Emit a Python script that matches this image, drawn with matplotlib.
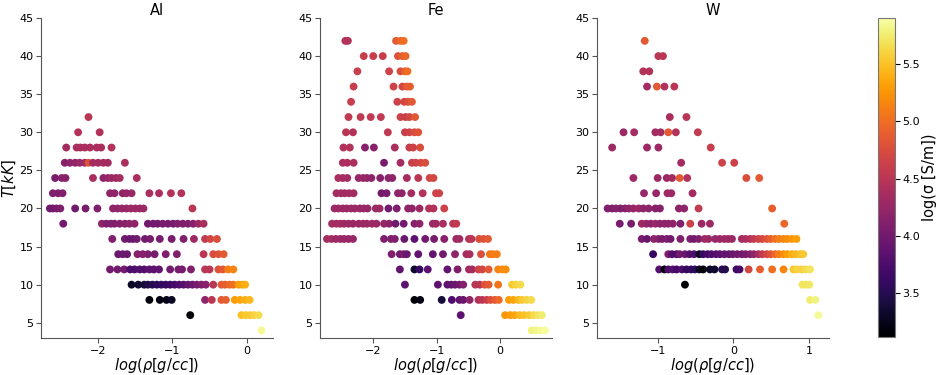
import numpy as np
import matplotlib
matplotlib.use("Agg")
import matplotlib.pyplot as plt
from matplotlib.colors import Normalize

# conductivity colour scale shared by all three panels
SIG_MIN, SIG_MAX = 3.12, 5.9

# ---- Al ----
al_T = [32, 30, 28, 26, 24, 22, 20, 18, 16, 14, 12, 10, 8, 6, 4]
al_logrho = [
    [-2.13],
    [-2.27, -1.98],
    [-2.43, -2.29, -2.24, -2.18, -2.11, -2.02, -1.96, -1.82],
    [-2.45, -2.38, -2.31, -2.25, -2.18, -2.13, -2.07, -2.00, -1.93, -1.87, -1.64],
    [-2.58, -2.49, -2.44, -2.07, -1.93, -1.87, -1.82, -1.76, -1.71, -1.48],
    [-2.61, -2.54, -2.48, -1.84, -1.78, -1.67, -1.62, -1.55, -1.31, -1.18, -1.02, -0.88],
    [-2.65, -2.61, -2.56, -2.51, -2.31, -2.17, -2.01, -1.80, -1.74, -1.68, -1.62, -1.56,
     -1.50, -1.44, -1.39, -0.73],
    [-2.47, -1.95, -1.89, -1.83, -1.78, -1.71, -1.64, -1.58, -1.51, -1.33, -1.26, -1.20,
     -1.13, -1.06, -0.99, -0.93, -0.86, -0.79, -0.72, -0.65, -0.58],
    [-1.81, -1.64, -1.58, -1.53, -1.48, -1.37, -1.30, -1.17, -1.01, -0.85, -0.71, -0.56,
     -0.49, -0.40],
    [-1.73, -1.67, -1.61, -1.47, -1.40, -1.33, -1.24, -1.09, -0.94, -0.58, -0.45, -0.38, -0.31],
    [-1.84, -1.74, -1.65, -1.57, -1.51, -1.44, -1.38, -1.31, -1.25, -1.18, -1.03, -0.92,
     -0.87, -0.75, -0.56, -0.50, -0.38, -0.32, -0.25, -0.18],
    [-1.55, -1.46, -1.38, -1.33, -1.27, -1.21, -1.15, -1.09, -1.03, -0.97, -0.91, -0.85,
     -0.79, -0.73, -0.67, -0.61, -0.55, -0.45, -0.34, -0.29, -0.23, -0.18, -0.11, -0.06, -0.02],
    [-1.31, -1.17, -1.08, -1.01, -0.56, -0.47, -0.34, -0.28, -0.16, -0.09, -0.02, 0.04],
    [-0.76, -0.07, -0.01, 0.05, 0.10, 0.16],
    [0.20],
]
al_logsig = [
    [4.5],
    [4.45, 4.45],
    [4.35, 4.4, 4.4, 4.4, 4.4, 4.4, 4.4, 4.45],
    [4.15, 4.2, 4.2, 4.25, 4.3, 4.8, 4.35, 4.35, 4.35, 4.35, 4.4],
    [4.05, 4.15, 4.15, 4.4, 4.2, 4.25, 4.3, 4.3, 4.35, 4.4],
    [4.1, 4.1, 4.1, 4.2, 4.2, 4.2, 4.25, 4.25, 4.4, 4.4, 4.45, 4.45],
    [4.0, 4.0, 4.05, 4.1, 4.0, 4.05, 4.1, 4.2, 4.2, 4.25, 4.25, 4.3, 4.3, 4.3, 4.3, 4.5],
    [4.0, 4.2, 4.1, 4.1, 4.1, 4.15, 4.15, 4.2, 4.2, 4.0, 4.0, 4.0, 4.05, 4.05, 4.05, 4.1,
     4.1, 4.1, 4.15, 4.3, 4.4],
    [4.1, 4.0, 3.95, 3.95, 4.0, 4.0, 4.05, 4.05, 4.05, 4.1, 4.3, 4.55, 4.7, 4.75],
    [3.95, 3.95, 3.95, 4.15, 4.15, 4.1, 4.05, 4.1, 4.1, 4.5, 4.75, 4.8, 4.85],
    [4.0, 4.0, 4.0, 3.75, 3.75, 3.8, 3.8, 3.85, 3.85, 3.9, 4.0, 4.05, 4.05, 4.1, 4.5, 4.5,
     4.8, 4.85, 5.1, 5.15],
    [3.3, 3.35, 3.4, 3.45, 3.5, 3.55, 3.6, 3.6, 3.65, 3.7, 3.75, 3.8, 3.9, 3.95, 4.05, 4.1,
     4.15, 4.5, 4.85, 4.9, 4.95, 5.0, 5.3, 5.35, 5.4],
    [3.15, 3.2, 3.25, 3.3, 4.2, 4.5, 4.85, 4.9, 5.3, 5.35, 5.4, 5.45],
    [3.15, 5.5, 5.55, 5.55, 5.6, 5.65],
    [5.85],
]

# ---- Fe ----
fe_T = [42, 40, 38, 36, 34, 32, 30, 28, 26, 24, 22, 20, 18, 16, 14, 12, 10, 8, 6, 4]
fe_logrho = [
    [-2.44, -2.40, -1.64, -1.57, -1.52],
    [-2.15, -2.00, -1.85, -1.61, -1.54, -1.49],
    [-2.25, -1.75, -1.57, -1.50, -1.46],
    [-2.31, -1.68, -1.54, -1.47, -1.42],
    [-2.35, -1.62, -1.51, -1.45, -1.39],
    [-2.39, -2.20, -2.04, -1.88, -1.57, -1.49, -1.43, -1.34],
    [-2.43, -2.32, -1.77, -1.50, -1.43, -1.35, -1.29],
    [-2.47, -2.37, -2.13, -1.99, -1.66, -1.43, -1.37, -1.26],
    [-2.48, -2.41, -2.31, -1.83, -1.57, -1.39, -1.33, -1.25, -1.18],
    [-2.55, -2.48, -2.41, -2.23, -2.16, -2.10, -2.03, -1.89, -1.76, -1.70, -1.47, -1.29,
     -1.11, -1.05],
    [-2.58, -2.51, -2.45, -2.38, -2.31, -1.87, -1.79, -1.61, -1.55, -1.40, -1.22, -1.01, -0.96],
    [-2.61, -2.55, -2.48, -2.42, -2.35, -2.29, -2.21, -2.15, -2.09, -1.96, -1.90, -1.76,
     -1.63, -1.45, -1.39, -1.27, -1.12, -1.05, -0.88],
    [-2.65, -2.58, -2.52, -2.46, -2.39, -2.32, -2.23, -2.16, -2.10, -2.02, -1.95, -1.83,
     -1.75, -1.65, -1.52, -1.35, -1.27, -1.06, -1.01, -0.90, -0.74, -0.69],
    [-2.73, -2.66, -2.59, -2.52, -2.46, -2.39, -2.32, -1.83, -1.72, -1.66, -1.51, -1.35,
     -1.18, -1.04, -0.88, -0.69, -0.64, -0.49, -0.45, -0.33, -0.26, -0.19],
    [-1.71, -1.58, -1.52, -1.47, -1.29, -1.06, -0.90, -0.71, -0.53, -0.48, -0.30, -0.16,
     -0.11, -0.05],
    [-1.58, -1.35, -1.27, -1.14, -0.83, -0.67, -0.49, -0.44, -0.34, -0.28, -0.18, -0.03,
     0.04, 0.09],
    [-1.50, -0.98, -0.83, -0.77, -0.71, -0.64, -0.58, -0.39, -0.32, -0.24, -0.18, -0.03,
     0.19, 0.25, 0.32],
    [-1.35, -1.26, -0.92, -0.76, -0.64, -0.58, -0.48, -0.34, -0.28, -0.21, -0.15, -0.08,
     -0.02, 0.14, 0.21, 0.29, 0.35, 0.42, 0.49],
    [-0.62, 0.08, 0.16, 0.23, 0.31, 0.38, 0.46, 0.53, 0.60, 0.66],
    [0.50, 0.57, 0.64, 0.71],
]
fe_logsig = [
    [4.45, 4.45, 4.85, 4.95, 5.0],
    [4.6, 4.6, 4.6, 4.8, 4.9, 4.95],
    [4.6, 4.65, 4.75, 4.9, 5.0],
    [4.6, 4.65, 4.7, 4.85, 4.9],
    [4.6, 4.65, 4.7, 4.75, 4.85],
    [4.55, 4.55, 4.55, 4.55, 4.65, 4.6, 4.7, 4.85],
    [4.5, 4.45, 4.55, 4.6, 4.65, 4.75, 4.8],
    [4.45, 4.45, 4.15, 4.15, 4.4, 4.6, 4.65, 4.75],
    [4.4, 4.4, 4.4, 4.05, 4.35, 4.6, 4.65, 4.7, 4.75],
    [4.4, 4.35, 4.35, 4.25, 4.25, 4.25, 4.2, 4.15, 4.2, 4.2, 4.35, 4.5, 4.7, 4.7],
    [4.35, 4.35, 4.35, 4.35, 4.35, 4.0, 4.05, 4.2, 4.2, 4.35, 4.45, 4.65, 4.65],
    [4.3, 4.3, 4.3, 4.3, 4.3, 4.3, 4.25, 4.25, 4.25, 4.3, 4.3, 4.0, 4.1, 4.2, 4.2, 4.3,
     4.45, 4.45, 4.65],
    [4.35, 4.35, 4.35, 4.3, 4.3, 4.3, 4.3, 4.3, 4.3, 4.3, 4.3, 4.25, 4.2, 4.0, 4.0, 4.15,
     4.2, 4.3, 4.3, 4.4, 4.5, 4.55],
    [4.35, 4.35, 4.3, 4.3, 4.25, 4.25, 4.25, 4.1, 4.1, 4.1, 3.95, 3.85, 4.0, 4.05, 4.15,
     4.3, 4.35, 4.45, 4.5, 4.75, 4.8, 4.85],
    [4.1, 4.0, 4.05, 3.95, 3.9, 3.9, 4.0, 4.2, 4.35, 4.4, 4.75, 5.05, 5.1, 5.1],
    [3.9, 3.35, 3.6, 3.85, 3.9, 4.1, 4.35, 4.35, 4.65, 4.7, 4.85, 5.15, 5.2, 5.2],
    [3.85, 3.85, 3.85, 3.9, 3.95, 4.0, 4.15, 4.5, 4.5, 4.8, 4.85, 5.05, 5.55, 5.6, 5.65],
    [3.15, 3.2, 3.4, 3.75, 3.9, 3.95, 4.2, 4.45, 4.5, 4.6, 4.75, 4.85, 4.95, 5.3, 5.35,
     5.45, 5.55, 5.6, 5.65],
    [3.85, 5.25, 5.3, 5.35, 5.45, 5.5, 5.55, 5.65, 5.7, 5.75],
    [5.8, 5.82, 5.85, 5.87],
]

# ---- W ----
w_T = [42, 40, 38, 36, 32, 30, 28, 26, 24, 22, 20, 18, 16, 14, 12, 10, 8, 6]
w_logrho = [
    [-1.17],
    [-0.99, -0.93],
    [-1.19, -1.11],
    [-1.14, -1.01, -0.91, -0.78],
    [-0.84, -0.62],
    [-1.45, -1.31, -1.03, -0.96, -0.86, -0.76, -0.47],
    [-1.60, -1.14, -0.99, -0.30],
    [-0.69, -0.15, 0.01],
    [-1.32, -1.00, -0.88, -0.81, -0.71, -0.61, 0.17, 0.34],
    [-1.18, -1.02, -0.87, -0.82, -0.54],
    [-1.66, -1.60, -1.55, -1.49, -1.43, -1.38, -1.32, -1.25, -1.19, -1.12, -1.03, -0.97,
     -0.72, -0.65, -0.46, 0.51],
    [-1.50, -1.35, -1.21, -1.15, -1.09, -1.03, -0.97, -0.91, -0.86, -0.80, -0.70, -0.57,
     -0.42, -0.31, 0.67],
    [-1.21, -1.14, -1.05, -0.99, -0.94, -0.88, -0.83, -0.70, -0.57, -0.52, -0.46, -0.38,
     -0.33, -0.24, -0.18, -0.12, -0.07, -0.02, 0.11, 0.16, 0.22, 0.27, 0.33, 0.38, 0.44,
     0.49, 0.55, 0.60, 0.66, 0.71, 0.77, 0.83],
    [-1.06, -0.86, -0.81, -0.75, -0.71, -0.64, -0.58, -0.52, -0.45, -0.40, -0.34, -0.29,
     -0.23, -0.18, -0.12, -0.06, -0.01, 0.05, 0.11, 0.16, 0.22, 0.27, 0.33, 0.38, 0.44,
     0.49, 0.55, 0.60, 0.66, 0.71, 0.77, 0.82, 0.88, 0.92],
    [-0.98, -0.91, -0.86, -0.80, -0.75, -0.68, -0.62, -0.56, -0.51, -0.45, -0.40, -0.31,
     -0.25, -0.15, -0.11, 0.04, 0.08, 0.20, 0.35, 0.51, 0.66, 0.79, 0.84, 0.90, 0.95, 1.01],
    [-0.64, 0.91, 0.96, 1.00],
    [1.01, 1.08],
    [1.12],
]
w_logsig = [
    [4.85],
    [4.5, 4.5],
    [4.45, 4.45],
    [4.35, 4.85, 4.45, 4.5],
    [4.4, 4.5],
    [4.3, 4.35, 4.35, 4.35, 4.85, 4.45, 4.55],
    [4.3, 4.3, 4.3, 4.6],
    [4.35, 4.65, 4.65],
    [4.3, 4.3, 4.3, 4.35, 4.85, 4.45, 4.75, 4.85],
    [4.25, 4.25, 4.3, 4.3, 4.35],
    [4.1, 4.1, 4.15, 4.1, 4.15, 4.2, 4.25, 4.3, 4.2, 4.2, 4.15, 4.15, 4.2, 4.2, 4.55, 4.9],
    [4.05, 4.05, 4.3, 4.25, 4.2, 4.25, 4.2, 4.2, 4.2, 4.2, 4.1, 4.65, 4.3, 4.3, 4.95],
    [4.05, 3.95, 4.2, 4.15, 4.05, 4.1, 4.0, 4.1, 4.1, 4.0, 4.1, 4.3, 4.3, 4.25, 4.25, 4.3,
     4.3, 4.3, 4.35, 4.4, 4.45, 4.55, 4.65, 4.7, 4.8, 4.9, 5.0, 5.1, 5.15, 5.2, 5.25, 5.3],
    [3.6, 4.1, 3.8, 3.75, 4.0, 3.95, 3.8, 3.75, 3.3, 3.6, 3.7, 3.75, 3.8, 3.85, 3.9, 3.9,
     3.95, 4.0, 4.0, 4.05, 4.1, 4.2, 4.35, 4.55, 4.7, 4.8, 4.95, 5.1, 5.2, 5.3, 5.4, 5.45,
     5.5, 5.55],
    [3.8, 3.15, 3.75, 3.8, 3.7, 3.75, 3.6, 3.6, 3.55, 3.3, 3.15, 3.3, 3.35, 3.5, 3.5, 3.65,
     3.7, 4.7, 4.9, 5.0, 5.15, 5.55, 5.6, 5.6, 5.65, 5.7],
    [3.12, 5.7, 5.7, 5.72],
    [5.75, 5.8],
    [5.85],
]

panels = [
    ("Al", al_T, al_logrho, al_logsig, (-2.77, 0.355), [-2, -1, 0]),
    ("Fe", fe_T, fe_logrho, fe_logsig, (-2.84, 0.82), [-2, -1, 0]),
    ("W", w_T, w_logrho, w_logsig, (-1.80, 1.26), [-1, 0, 1]),
]

fig = plt.figure(figsize=(9.41, 3.75), dpi=100)
lefts = [41 / 941, 320 / 941, 597 / 941]
width = 232 / 941
bottom = 37 / 375
height = 320 / 375

norm = Normalize(vmin=SIG_MIN, vmax=SIG_MAX)
sc = None
for i, (name, temps, logrho, logsig, xlim, xticks) in enumerate(panels):
    ax = fig.add_axes([lefts[i], bottom, width, height])
    x = np.concatenate([np.asarray(r, dtype=float) for r in logrho])
    y = np.concatenate([np.full(len(r), t, dtype=float) for t, r in zip(temps, logrho)])
    c = np.concatenate([np.asarray(s, dtype=float) for s in logsig])
    sc = ax.scatter(x, y, c=c, cmap="inferno", norm=norm, s=32, linewidths=0)
    ax.set_xlim(*xlim)
    ax.set_ylim(3, 45)
    ax.set_xticks(xticks)
    ax.set_yticks(range(5, 46, 5))
    ax.spines["top"].set_visible(False)
    ax.spines["right"].set_visible(False)
    for sp in ("left", "bottom"):
        ax.spines[sp].set_color("#555555")
    ax.tick_params(labelsize=8, colors="#555555", labelcolor="black", pad=2)
    ax.set_title(name, fontsize=10.5, pad=2)
    ax.set_xlabel(r"$log(\rho[g/cc])$", fontsize=10.5, labelpad=0)
    if i == 0:
        ax.set_ylabel(r"$T[kK]$", fontsize=10.5, labelpad=1)

cax = fig.add_axes([878 / 941, 38 / 375, 17 / 941, 319 / 375])
cb = fig.colorbar(sc, cax=cax)
cb.set_ticks([3.5, 4.0, 4.5, 5.0, 5.5])
cb.ax.tick_params(labelsize=8, pad=2)
cb.outline.set_edgecolor("#777777")
cb.set_label("log(σ [S/m])", fontsize=10.5, labelpad=1)

fig.savefig("out.png", dpi=100, facecolor="white")
